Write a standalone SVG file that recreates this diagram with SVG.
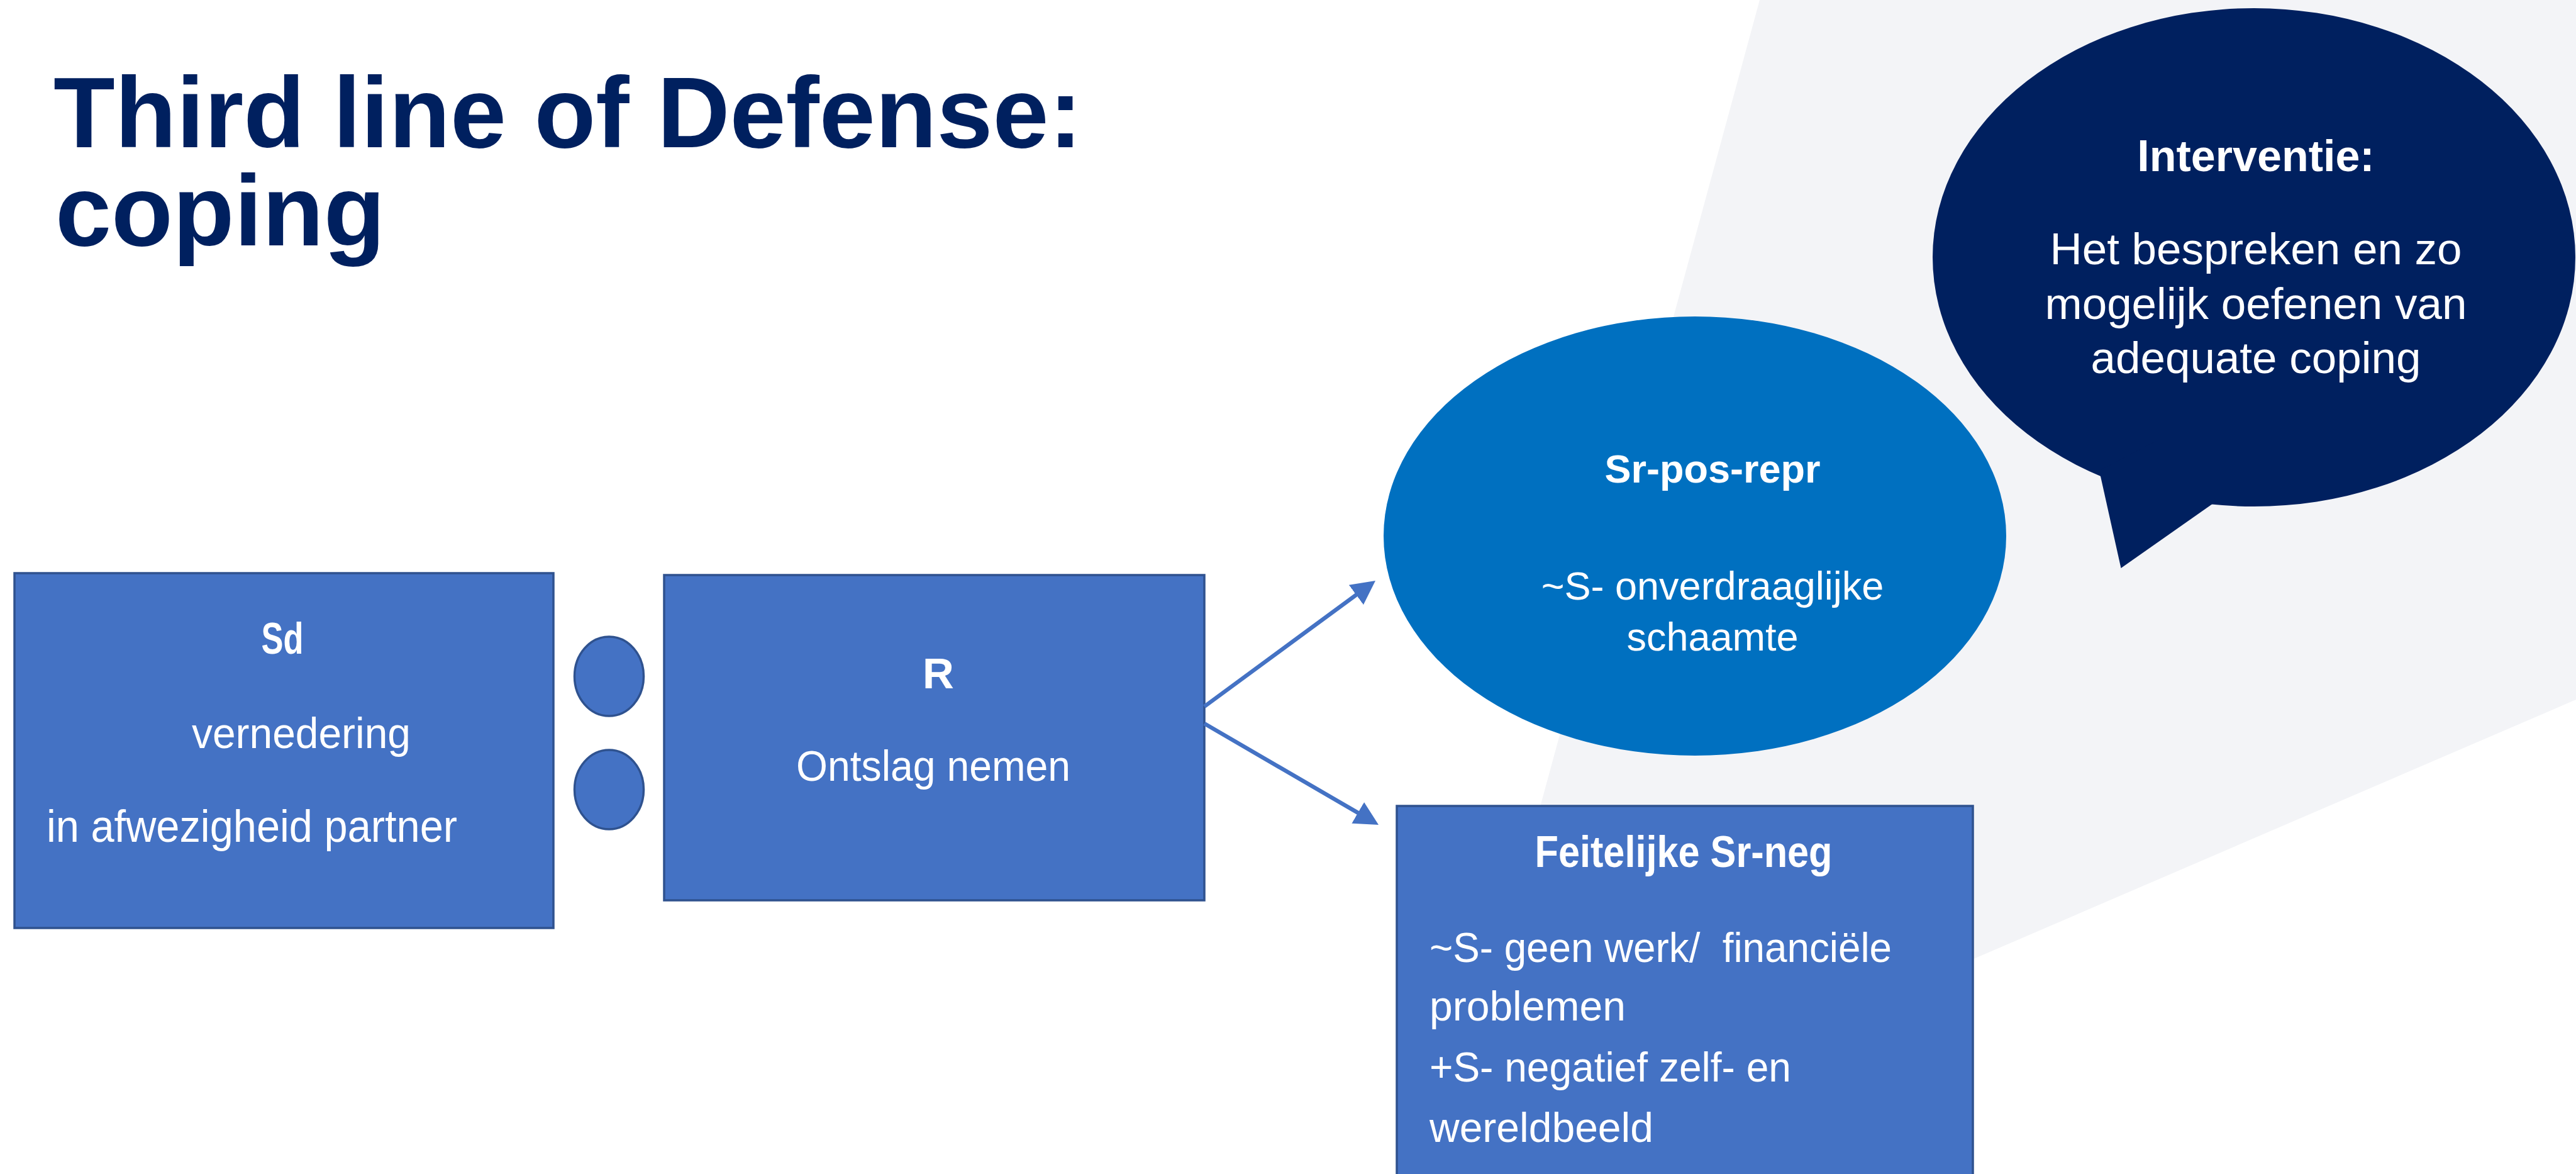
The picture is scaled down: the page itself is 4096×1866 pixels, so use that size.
<svg xmlns="http://www.w3.org/2000/svg" width="4096" height="1866" viewBox="0 0 4096 1866">
  <defs>
    <style>
      .txt { font-family: "Liberation Sans", Arial, Helvetica, sans-serif; fill: #FFFFFF; }
      .b { font-weight: bold; }
      .box { fill: #4472C4; stroke: #2F528F; stroke-width: 3.5; }
      .conn { stroke: #4472C4; stroke-width: 6.5; fill: none; marker-end: url(#arrow); }
    </style>
    <marker id="arrow" viewBox="0 -20 40 40" markerWidth="40" markerHeight="40" refX="2" refY="0" orient="auto" markerUnits="userSpaceOnUse">
      <path d="M0,-19.5 L38,0 L0,19.5 z" fill="#4472C4"/>
    </marker>
  </defs>

  <g id="background">
    <rect x="0" y="0" width="4096" height="1866" fill="#FFFFFF"/>
    <polygon points="2798,0 4096,0 4096,1112 2283,1892" fill="#F3F4F7"/>
  </g>

  <g id="title">
    <text font-family="Liberation Sans, Arial, sans-serif" font-weight="bold" font-size="160" fill="#00205F"><tspan x="85" y="234">Third line of Defense:</tspan><tspan x="88" y="390">coping</tspan></text>
  </g>

  <g id="node-sd">
    <rect class="box" x="23" y="911" width="857" height="564"/>
    <text class="txt b" x="449" y="1039" font-size="70" text-anchor="middle" textLength="67" lengthAdjust="spacingAndGlyphs">Sd</text>
    <text class="txt" x="479" y="1189" font-size="69" text-anchor="middle" textLength="348" lengthAdjust="spacingAndGlyphs">vernedering</text>
    <text class="txt" x="74" y="1338" font-size="72" textLength="653" lengthAdjust="spacingAndGlyphs">in afwezigheid partner</text>
  </g>

  <g id="node-circle-1">
    <ellipse class="box" cx="968.5" cy="1075" rx="55" ry="63"/>
  </g>
  <g id="node-circle-2">
    <ellipse class="box" cx="968.5" cy="1255" rx="55" ry="63"/>
  </g>

  <g id="node-r">
    <rect class="box" x="1056" y="914" width="859" height="517"/>
    <text class="txt b" x="1492" y="1094" font-size="69" text-anchor="middle">R</text>
    <text class="txt" x="1484" y="1241" font-size="69" text-anchor="middle" textLength="436" lengthAdjust="spacingAndGlyphs">Ontslag nemen</text>
  </g>

  <g id="node-sr-pos">
    <ellipse cx="2695" cy="852" rx="495" ry="349" fill="#0070C0"/>
    <text class="txt b" x="2723" y="767" font-size="63" text-anchor="middle">Sr-pos-repr</text>
    <text class="txt" x="2723" y="953" font-size="63" text-anchor="middle">~S- onverdraaglijke</text>
    <text class="txt" x="2723" y="1034" font-size="63" text-anchor="middle">schaamte</text>
  </g>

  <g id="node-sr-neg">
    <rect class="box" x="2221" y="1281" width="916" height="610"/>
    <text class="txt b" x="2677" y="1378" font-size="70" text-anchor="middle" textLength="473" lengthAdjust="spacingAndGlyphs">Feitelijke Sr-neg</text>
    <text class="txt" x="2273" y="1529" font-size="66" textLength="735" lengthAdjust="spacingAndGlyphs" xml:space="preserve">~S- geen werk/  financiële</text>
    <text class="txt" x="2273" y="1622" font-size="66">problemen</text>
    <text class="txt" x="2273" y="1719" font-size="66" textLength="575" lengthAdjust="spacingAndGlyphs">+S- negatief zelf- en</text>
    <text class="txt" x="2273" y="1815" font-size="66">wereldbeeld</text>
  </g>

  <g id="node-interventie">
    <ellipse cx="3584" cy="409" rx="511" ry="396" fill="#00205F"/>
    <polygon points="3338,748 3372.5,903 3525,796 3430,700" fill="#00205F"/>
    <text class="txt b" x="3587" y="272" font-size="70" text-anchor="middle">Interventie:</text>
    <text class="txt" x="3587" y="420" font-size="71" text-anchor="middle">Het bespreken en zo</text>
    <text class="txt" x="3587" y="507" font-size="71" text-anchor="middle">mogelijk oefenen van</text>
    <text class="txt" x="3587" y="593" font-size="71" text-anchor="middle">adequate coping</text>
  </g>

  <g id="connectors">
    <line class="conn" x1="1915" y1="1123" x2="2158" y2="944.3"/>
    <line class="conn" x1="1915" y1="1150" x2="2160.9" y2="1292.9"/>
  </g>
</svg>
